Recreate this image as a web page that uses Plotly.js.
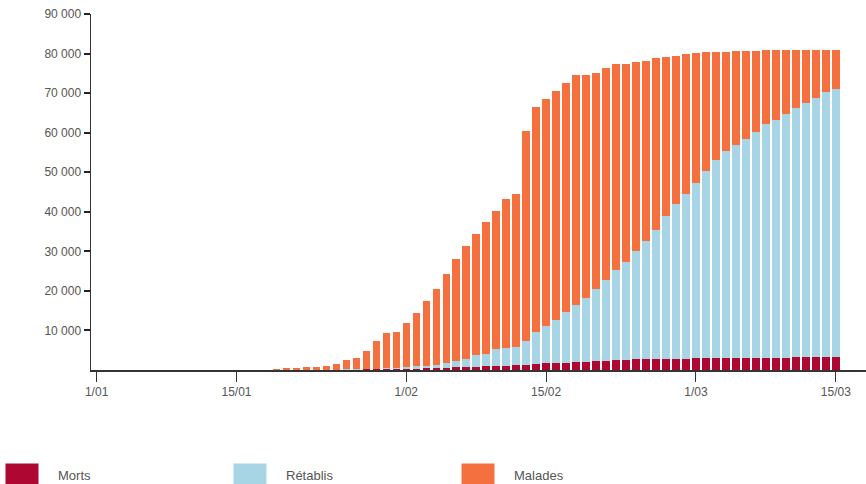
<!DOCTYPE html>
<html>
<head>
<meta charset="utf-8">
<script src="https://cdn.plot.ly/plotly-3.0.1.min.js"></script>
<style>
  html, body { margin: 0; padding: 0; background: #fff; }
  #chart { width: 866px; height: 484px; }
  .infolayer { transform: translate(0px, 6px); }
  .legend .legendpoints path {
    transform-box: fill-box;
    transform-origin: center;
    transform: translate(22px, 0px) scale(2.75, 1.9);
  }
</style>
</head>
<body>
<div id="chart"></div>
<script>
// Dates: one bar per day, 19 Jan 2020 – 15 Mar 2020
const dates = [
  "2020-01-19","2020-01-20","2020-01-21","2020-01-22","2020-01-23","2020-01-24","2020-01-25",
  "2020-01-26","2020-01-27","2020-01-28","2020-01-29","2020-01-30","2020-01-31","2020-02-01",
  "2020-02-02","2020-02-03","2020-02-04","2020-02-05","2020-02-06","2020-02-07","2020-02-08",
  "2020-02-09","2020-02-10","2020-02-11","2020-02-12","2020-02-13","2020-02-14","2020-02-15",
  "2020-02-16","2020-02-17","2020-02-18","2020-02-19","2020-02-20","2020-02-21","2020-02-22",
  "2020-02-23","2020-02-24","2020-02-25","2020-02-26","2020-02-27","2020-02-28","2020-02-29",
  "2020-03-01","2020-03-02","2020-03-03","2020-03-04","2020-03-05","2020-03-06","2020-03-07",
  "2020-03-08","2020-03-09","2020-03-10","2020-03-11","2020-03-12","2020-03-13","2020-03-14",
  "2020-03-15"
];

const morts = [
  3, 6, 9, 17, 25, 41, 56,
  80, 106, 132, 170, 213, 259, 304,
  361, 425, 490, 563, 636, 722, 811,
  908, 1016, 1113, 1259, 1380, 1523, 1665,
  1770, 1868, 2004, 2118, 2236, 2345, 2442,
  2592, 2663, 2715, 2744, 2788, 2835, 2870,
  2912, 2943, 2981, 3012, 3042, 3070, 3097,
  3119, 3136, 3158, 3169, 3176, 3189, 3199,
  3213
];

const retablis = [
  20, 25, 28, 30, 34, 38, 49,
  51, 60, 103, 124, 171, 243, 376,
  539, 675, 810, 1157, 1764, 2108, 2859,
  3192, 4174, 4487, 4641, 5910, 8047, 9425,
  10760, 12762, 14326, 16162, 18324, 20495, 22928,
  24698, 27337, 29895, 32576, 36152, 39065, 41730,
  44388, 47387, 50059, 52308, 53798, 55280, 56953,
  58951, 60024, 61522, 62951, 64364, 65621, 67131,
  67797
];

const malades = [
  277, 369, 463, 603, 791, 1021, 1395,
  2369, 2934, 4465, 7106, 8916, 9198, 11120,
  13600, 16300, 19260, 22630, 25570, 28440, 30810,
  33320, 35010, 37560, 38700, 53210, 56830, 57410,
  58070, 57970, 58170, 56320, 54640, 53410, 51900,
  50050, 47930, 45570, 43470, 40260, 37560, 35200,
  32750, 29970, 27260, 25140, 23790, 22300, 20630,
  18820, 17730, 16220, 14780, 13380, 12130, 10630,
  9970
];

const xTickVals = ["2020-01-01","2020-01-15","2020-02-01","2020-02-15","2020-03-01","2020-03-15"];
const xTickText = ["1/01","15/01","1/02","15/02","1/03","15/03"];
const yTickVals = [10000,20000,30000,40000,50000,60000,70000,80000,90000];

const FONT = "Arial, 'Liberation Sans', sans-serif";

const traces = [
  { type: "bar", name: "Morts", x: dates, y: morts, marker: { color: "#ae0731", line: { width: 0 } } },
  { type: "bar", name: "Rétablis", x: dates, y: retablis, marker: { color: "#a8d5e5", line: { width: 0 } } },
  { type: "bar", name: "Malades", x: dates, y: malades, marker: { color: "#f4713f", line: { width: 0 } } }
];

const layout = {
  width: 866,
  height: 484,
  margin: { l: 91, r: 0, t: 14, b: 114, pad: 0 },
  barmode: "stack",
  bargap: 0.25,
  separators: ", ",
  paper_bgcolor: "#ffffff",
  plot_bgcolor: "#ffffff",
  font: { family: FONT, size: 12, color: "#555555" },
  showlegend: true,
  legend: {
    orientation: "h",
    xref: "container",
    yref: "container",
    x: 0,
    xanchor: "left",
    y: 0,
    yanchor: "bottom",
    traceorder: "normal",
    entrywidth: 165,
    entrywidthmode: "pixels",
    itemwidth: 48,
    itemclick: false,
    itemdoubleclick: false,
    font: { family: FONT, size: 13, color: "#555555" },
    bgcolor: "rgba(0,0,0,0)"
  },
  xaxis: {
    type: "date",
    range: ["2019-12-31 10:30", "2020-03-18 00:30"],
    tickvals: xTickVals,
    ticktext: xTickText,
    ticks: "outside",
    ticklen: 10,
    tickwidth: 1,
    tickcolor: "#333333",
    showline: true,
    linecolor: "#333333",
    linewidth: 1.5,
    showgrid: false,
    zeroline: false,
    tickfont: { family: FONT, size: 12, color: "#555555" },
    fixedrange: true
  },
  yaxis: {
    range: [0, 90000],
    tickvals: yTickVals,
    tickformat: ",d",
    ticks: "outside",
    ticklen: 6,
    tickwidth: 2,
    tickcolor: "#222222",
    showline: true,
    linecolor: "#333333",
    linewidth: 1.5,
    showgrid: false,
    zeroline: false,
    tickfont: { family: FONT, size: 12, color: "#555555" },
    fixedrange: true
  },
  yaxis2: {
    overlaying: "y",
    side: "left",
    range: [0, 90000],
    tickvals: yTickVals,
    ticks: "inside",
    ticklen: 4,
    tickwidth: 2,
    tickcolor: "#222222",
    showticklabels: false,
    showline: false,
    showgrid: false,
    zeroline: false,
    fixedrange: true
  }
};

Plotly.newPlot("chart", traces, layout, { displayModeBar: false, staticPlot: true });
</script>
</body>
</html>
